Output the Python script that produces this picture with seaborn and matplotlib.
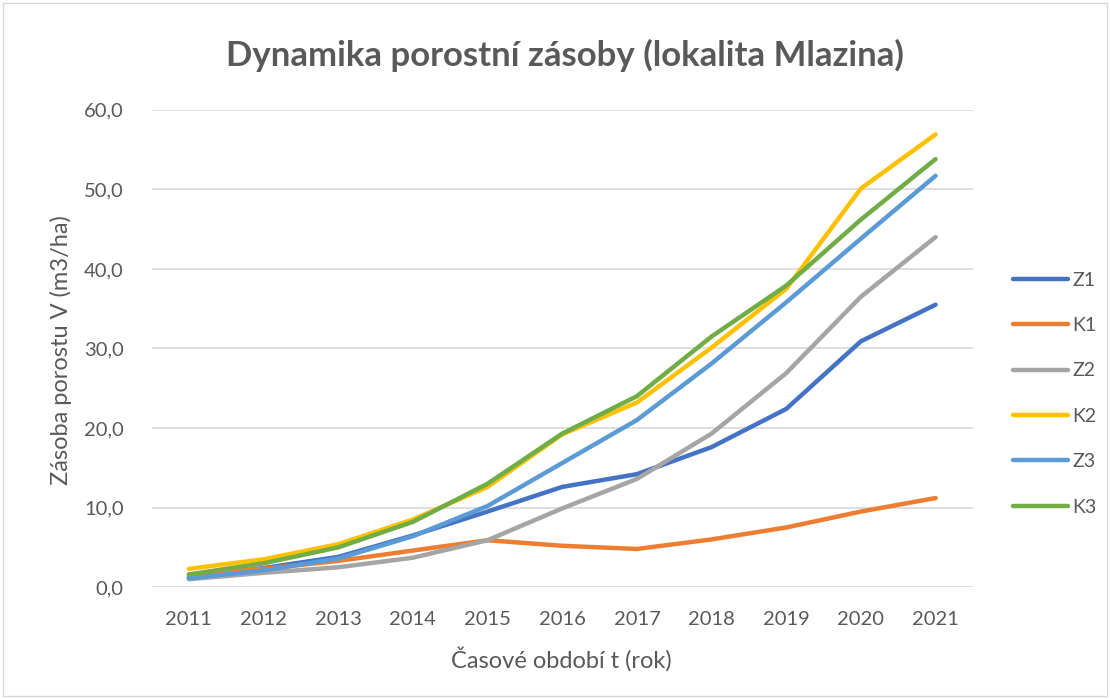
import matplotlib
matplotlib.use("Agg")
import matplotlib.pyplot as plt
import matplotlib.patches as mpatches
from matplotlib.ticker import FuncFormatter, MultipleLocator
import seaborn as sns
import pandas as pd

years = [2011, 2012, 2013, 2014, 2015, 2016, 2017, 2018, 2019, 2020, 2021]
z1 = [1.2, 2.4, 3.8, 6.5, 9.5, 12.6, 14.2, 17.6, 22.4, 30.9, 35.5]
k1 = [1.6, 2.3, 3.3, 4.6, 5.9, 5.2, 4.8, 6.0, 7.5, 9.5, 11.2]
z2 = [1.0, 1.8, 2.5, 3.7, 5.9, 9.9, 13.6, 19.3, 26.9, 36.5, 44.0]
k2 = [2.3, 3.5, 5.4, 8.5, 12.6, 19.2, 23.2, 30.1, 37.5, 50.1, 56.9]
z3 = [1.1, 2.1, 3.6, 6.4, 10.2, 15.6, 21.0, 28.1, 35.8, 43.8, 51.7]
k3 = [1.6, 3.0, 5.0, 8.2, 13.0, 19.3, 24.0, 31.5, 37.9, 46.2, 53.8]

series = {"Z1": z1, "K1": k1, "Z2": z2, "K2": k2, "Z3": z3, "K3": k3}
colors = ["#4472c4", "#ed7d31", "#a5a5a5", "#ffc000", "#5b9bd5", "#70ad47"]

rows = []
for name, vals in series.items():
    for i, (yr, v) in enumerate(zip(years, vals)):
        rows.append({"pos": i, "rok": str(yr), "serie": name, "V": v})
df = pd.DataFrame(rows)

sns.set_style("white")
plt.rcParams["font.family"] = ["Lato", "DejaVu Sans"]
txt = "#595959"
lw = 3.2

fig = plt.figure(figsize=(11.1, 6.99), dpi=100)
ax = fig.add_axes([0.1365, 0.160, 0.740, 0.683])

sns.lineplot(data=df, x="pos", y="V", hue="serie", palette=colors,
             linewidth=lw, ax=ax, legend=False, solid_capstyle="round")

ax.set_xlim(-0.5, len(years) - 0.5)
ax.set_ylim(0, 60)
ax.set_xticks(range(len(years)))
ax.set_xticklabels([str(y) for y in years])
ax.yaxis.set_major_locator(MultipleLocator(10))
ax.yaxis.set_major_formatter(FuncFormatter(lambda v, p: f"{v:.1f}".replace(".", ",")))
ax.grid(axis="y", color="#d9d9d9", linewidth=1.2)
ax.set_axisbelow(True)
for s in ax.spines.values():
    s.set_visible(False)
ax.tick_params(axis="both", length=0, labelsize=14.5, labelcolor=txt)
ax.tick_params(axis="x", pad=17)
ax.tick_params(axis="y", pad=20)

ax.set_xlabel("Časové období t (rok)", fontsize=17, color=txt)
ax.set_ylabel("Zásoba porostu V (m3/ha)", fontsize=17, color=txt)
ax.xaxis.label.set_va("center")
ax.yaxis.label.set_va("center")
ax.xaxis.set_label_coords(0.499, -0.151)
ax.yaxis.set_label_coords(-0.11, 0.497)

fig.text(0.509, 0.921, "Dynamika porostní zásoby (lokalita Mlazina)",
         ha="center", va="center", fontsize=25, fontweight="bold", color=txt)

handles = [plt.Line2D([0], [0], color=c, linewidth=lw, solid_capstyle="round")
           for c in colors]
fig.legend(handles, list(series.keys()), loc="center left",
           bbox_to_anchor=(0.913, 0.437), frameon=False, fontsize=14,
           labelcolor=txt, handlelength=2.8, handletextpad=0.25,
           labelspacing=1.46, borderpad=0, borderaxespad=0)

fig.patches.append(mpatches.Rectangle((0.003, 0.004), 0.994, 0.992,
                                      transform=fig.transFigure, fill=False,
                                      edgecolor="#d9d9d9", linewidth=1))

fig.savefig("out.png", dpi=100)
